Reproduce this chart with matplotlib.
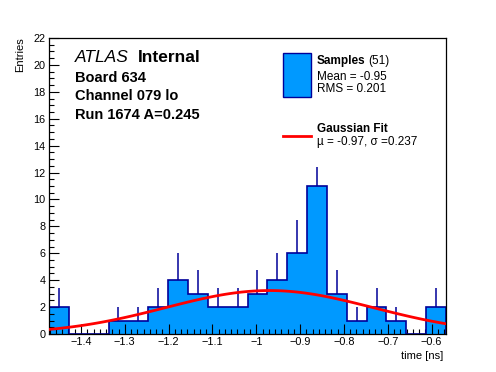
import matplotlib
matplotlib.use("Agg")
import matplotlib.pyplot as plt
import numpy as np
from matplotlib.ticker import MultipleLocator

plt.rcParams["font.family"] = ["Liberation Sans", "DejaVu Sans"]

# histogram: 20 bins between the axis limits
x_lo, x_hi = -1.473, -0.567
counts = [2, 0, 0, 1, 1, 2, 4, 3, 2, 2, 3, 4, 6, 11, 3, 1, 2, 1, 0, 2]
# upper error bar lengths
errors = [1.41, 0, 0, 1.0, 1.0, 1.41, 2.0, 1.73, 1.41, 1.41,
          1.73, 2.0, 2.45, 1.4, 1.73, 1.0, 1.41, 1.0, 0, 1.41]

# gaussian fit parameters
fit_mu, fit_sigma, fit_amp = -0.97, 0.237, 3.23

fill_col = "#0099ff"
edge_col = "#000099"

W, H = 496, 372
fig = plt.figure(figsize=(W / 100, H / 100), dpi=100)
ax = fig.add_axes([49 / W, 1 - 334 / H, (446 - 49) / W, (334 - 38) / H])

edges = np.linspace(x_lo, x_hi, len(counts) + 1)
centers = 0.5 * (edges[:-1] + edges[1:])
counts = np.array(counts, dtype=float)
errors = np.array(errors)

ax.stairs(counts, edges, fill=True, color=fill_col, baseline=0, zorder=1)
ax.stairs(counts, edges, color=edge_col, lw=1.2, baseline=0, zorder=2)
has = counts > 0
ax.vlines(centers[has], counts[has], counts[has] + errors[has],
          color=edge_col, lw=1.1, zorder=2)

xs = np.linspace(x_lo, x_hi, 100)
ax.plot(xs, fit_amp * np.exp(-0.5 * ((xs - fit_mu) / fit_sigma) ** 2),
        color="#ff0000", lw=2, zorder=3)

ax.set_xlim(x_lo, x_hi)
ax.set_ylim(0, 22)
ax.xaxis.set_major_locator(MultipleLocator(0.1))
ax.xaxis.set_minor_locator(MultipleLocator(0.1 / 7))
ax.yaxis.set_major_locator(MultipleLocator(2))
ax.yaxis.set_minor_locator(MultipleLocator(0.5))
ax.tick_params(which="both", direction="in", top=False, right=False,
               labelsize=7.8, pad=2.5)
ax.tick_params(which="major", length=7, width=0.8)
ax.tick_params(which="minor", length=3.5, width=0.8)
ax.xaxis.set_major_formatter(plt.FuncFormatter(
    lambda v, p: "\u2212" + f"{abs(v):g}" if v < 0 else f"{v:g}"))
for s in ax.spines.values():
    s.set_linewidth(0.9)

fig.text(443 / W, 1 - 356 / H, "time [ns]", ha="right", va="center", fontsize=8)
fig.text(20 / W, 1 - 37 / H, "Entries", ha="center", va="top", rotation=90,
         fontsize=8)

renderer = fig.canvas.get_renderer()


def after(t, gap_px):
    # x position (figure fraction) just right of text t
    bb = t.get_window_extent(renderer)
    return (bb.x1 + gap_px) / W


# ATLAS label block
fig.text(75 / W, 1 - 58 / H, "ATLAS", style="italic", fontsize=12.5, va="center")
fig.text(138 / W, 1 - 58 / H, "Internal", weight="bold", fontsize=12.5, va="center")
for txt, yp in [("Board 634", 77.5), ("Channel 079 lo", 96.5), ("Run 1674 A=0.245", 115)]:
    fig.text(75 / W, 1 - yp / H, txt, weight="bold", fontsize=10.5, va="center")

# legend
fig.patches.append(plt.Rectangle((283 / W, 1 - 97 / H), 28 / W, 44 / H,
                                 transform=fig.transFigure, facecolor=fill_col,
                                 edgecolor=edge_col, lw=1))
t = fig.text(317 / W, 1 - 61 / H, "Samples", weight="bold", fontsize=8.5, va="center")
fig.text(after(t, 2.5), 1 - 61 / H, "(51)", fontsize=8.5, va="center")
fig.text(317 / W, 1 - 77 / H, "Mean = -0.95", fontsize=8.5, va="center")
fig.text(317 / W, 1 - 88.5 / H, "RMS = 0.201", fontsize=8.5, va="center")
fig.lines.append(plt.Line2D([283 / W, 311 / W], [1 - 135.7 / H, 1 - 135.7 / H],
                            transform=fig.transFigure, color="#ff0000", lw=2))
fig.text(317 / W, 1 - 128.5 / H, "Gaussian Fit", weight="bold", fontsize=8.5, va="center")
fig.text(317 / W, 1 - 142 / H, "\u00b5 = -0.97, \u03c3 =0.237", fontsize=8.5, va="center")

fig.savefig("out.png", dpi=100)
